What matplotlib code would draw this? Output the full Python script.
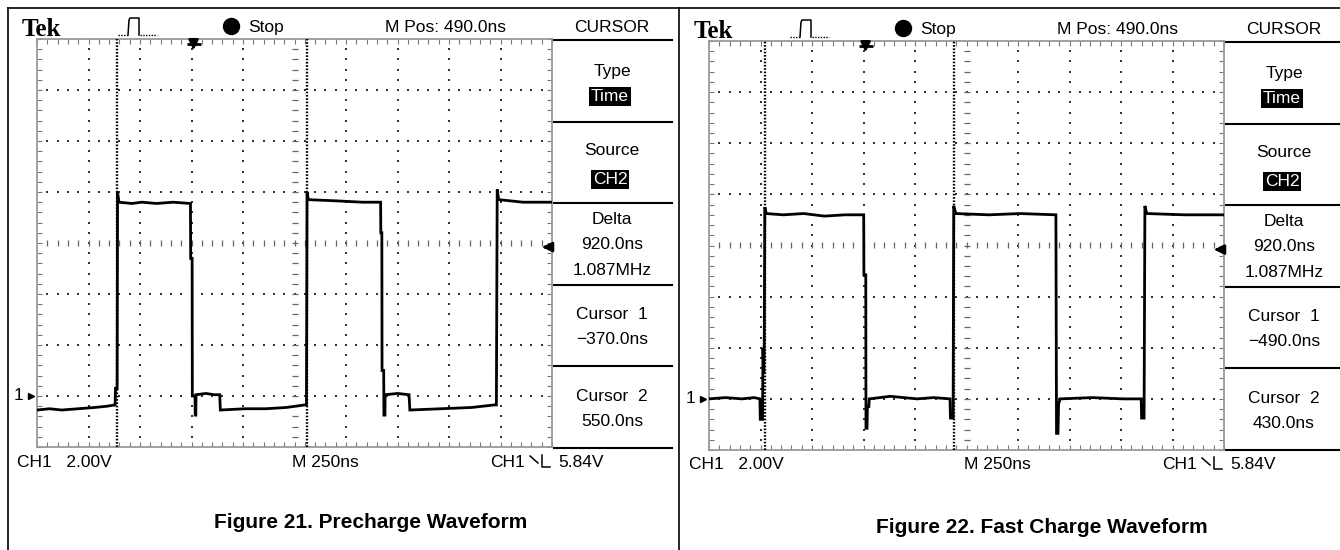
import numpy as np
import matplotlib.pyplot as plt

# scope settings (both captures): 250 ns/div, 2 V/div, M Pos 490 ns
t_min, t_max = -760, 1740
v_min, v_max = -2, 14
trig_level = 5.84

# Figure 21 - precharge waveform, CH1 (t in ns, v in V)
pre_t = [-760, -700, -640, -560, -480, -420, -381, -379, -371, -369, -362, -300,
         -250, -180, -100, -15, -14, -7, -6, 7, 8, 11, 12, 60, 100, 127, 130, 250,
         350, 450, 540, 548, 551, 557, 700, 820, 908, 909, 914, 915, 923, 924, 929,
         930, 990, 1046, 1050, 1200, 1350, 1460, 1470, 1474, 1481, 1600, 1740]
pre_v = [-0.55, -0.5, -0.55, -0.5, -0.45, -0.4, -0.35, 0.3, 0.3, 8.0, 7.6, 7.55,
         7.6, 7.55, 7.6, 7.55, 5.4, 5.4, 0.0, 0.0, -0.75, -0.75, 0.05, 0.1, 0.05, 0.05, -0.55, -0.5,
         -0.5, -0.45, -0.35, -0.35, 8.0, 7.7, 7.65, 7.6, 7.6, 6.4, 6.4, 1.0, 1.0, -0.75, -0.75,
         0.05, 0.1, 0.05, -0.55, -0.5, -0.45, -0.35, -0.35, 8.1, 7.7, 7.6, 7.6]
pre_cursors = [-370, 550]

# Figure 22 - fast charge waveform, CH1
fast_t = [-760, -680, -600, -540, -513, -511, -500, -498, -494, -492, -489, -482,
          -400, -300, -200, -100, -9, -8, 1, 2, 7, 9, 16, 18, 120, 250, 330, 410,
          412, 425, 428, 438, 600, 750, 924, 927, 934, 937, 945, 1100, 1250, 1338,
          1340, 1352, 1356, 1365, 1550, 1740]
fast_v = [0.0, 0.05, 0.0, 0.05, 0.0, -0.8, -0.8, 2.0, 1.0, 2.0, 7.5, 7.25,
          7.2, 7.25, 7.15, 7.2, 7.2, 4.85, 4.85, -1.15, -1.15, -0.3, -0.3, 0.0, 0.1, 0.0, 0.05, 0.0,
          -0.75, -0.75, 7.55, 7.25, 7.2, 7.25, 7.2, -1.35, -1.35, -0.2, 0.0, 0.05, 0.0, 0.0,
          -0.75, -0.75, 7.55, 7.25, 7.2, 7.2]
fast_cursors = [-490, 430]

# menu / readout texts
menu_pre = ['Type', 'Time', 'Source', 'CH2', 'Delta', '920.0ns', '1.087MHz',
            'Cursor  1', '\u2212370.0ns', 'Cursor  2', '550.0ns']
menu_fast = ['Type', 'Time', 'Source', 'CH2', 'Delta', '920.0ns', '1.087MHz',
             'Cursor  1', '\u2212490.0ns', 'Cursor  2', '430.0ns']
captions = ['Figure 21. Precharge Waveform', 'Figure 22. Fast Charge Waveform']

W, H = 1340, 550
fig = plt.figure(figsize=(13.4, 5.5), dpi=100)
ov = fig.add_axes([0, 0, 1, 1])
ov.set_xlim(0, W)
ov.set_ylim(H, 0)
ov.axis('off')

sfont = dict(family=['Liberation Sans', 'DejaVu Sans'], fontsize=12.5)

# outer frame
ov.plot([8, W], [8, 8], color='black', lw=1.2)
ov.plot([8, 8], [8, H], color='black', lw=1.2)
ov.plot([679, 679], [8, H], color='black', lw=1.2)


def screen(ax, t, v, cursors):
    ax.set_xlim(t_min, t_max)
    ax.set_ylim(v_min, v_max)
    ax.set_facecolor('none')
    major_x = np.arange(t_min, t_max + 1, 250)
    major_y = np.arange(v_min, v_max + 0.01, 2)
    minor_x = np.arange(t_min, t_max + 1, 50)
    minor_y = np.arange(v_min, v_max + 0.01, 0.4)
    ax.set_xticks(minor_x)
    ax.set_yticks(minor_y)
    ax.tick_params(direction='in', length=3.5, width=0.8, color='#777',
                   top=True, right=True, labelbottom=False, labelleft=False)
    for s in ax.spines.values():
        s.set_color('#999')
        s.set_linewidth(1.3)
    cx = (t_min + t_max) / 2
    cy = (v_min + v_max) / 2
    # dotted graticule
    vx = [x for x in major_x[1:-1] if x != cx]
    hy = [y for y in major_y[1:-1] if y != cy]
    gx, gy = np.meshgrid(vx, minor_y[1:-1])
    ax.scatter(gx.ravel(), gy.ravel(), s=1.2, marker='s', color='#333', lw=0)
    gx, gy = np.meshgrid(minor_x[1:-1], hy)
    ax.scatter(gx.ravel(), gy.ravel(), s=1.2, marker='s', color='#333', lw=0)
    # centre cross
    ax.plot(np.full(len(minor_y) - 2, cx), minor_y[1:-1], ls='none', marker='_',
            ms=4.5, mew=0.9, color='#666')
    ax.plot(minor_x[1:-1], np.full(len(minor_x) - 2, cy), ls='none', marker='|',
            ms=4.5, mew=0.9, color='#666')
    # cursors
    for c in cursors:
        ax.axvline(c, color='black', lw=1.7, ls=(0, (0.7, 0.7)), zorder=4)
    # waveform
    ax.plot(t, v, color='black', lw=2.0, zorder=5, solid_joinstyle='miter')
    # trigger position / level markers, ground marker
    ax.annotate('', xy=(0, v_max - 0.55), xytext=(0, v_max - 0.02),
                arrowprops=dict(arrowstyle='-|>', color='black', lw=2.0, mutation_scale=14))
    ax.plot([0], [v_max - 0.2], marker='_', ms=10, mew=2.0, color='black')
    ax.annotate('', xy=(t_max - 62, trig_level), xytext=(t_max - 10, trig_level),
                arrowprops=dict(arrowstyle='-|>', color='black', lw=2.0, mutation_scale=14))
    ax.plot([t_min - 30], [0], marker='>', ms=4.5, color='black', clip_on=False)
    ax.annotate('1', xy=(0, 0), xycoords=('axes fraction', 'data'), xytext=(-10, 0),
                textcoords='offset points', ha='right', va='center', **sfont)


def chrome(dx, dy, menu, caption, cap_x, cap_y):
    # header
    ov.text(22 + dx, 36 + dy, 'Tek', family=['Liberation Serif', 'DejaVu Serif'],
            fontweight='bold', fontsize=18, va='baseline', ha='left')
    ov.plot([118 + dx, 128 + dx], [35 + dy, 35 + dy], color='black', lw=1, ls=(0, (1, 1)))
    ov.plot([128 + dx, 129 + dx, 130 + dx, 139 + dx, 139 + dx],
            [35 + dy, 20 + dy, 18 + dy, 18 + dy, 35 + dy], color='black', lw=1.1)
    ov.plot([140 + dx, 157 + dx], [35 + dy, 35 + dy], color='black', lw=1, ls=(0, (1, 1)))
    ov.plot([231 + dx], [26 + dy], marker='o', ms=11.5, color='black')
    ov.text(248 + dx, 32 + dy, 'Stop', ha='left', va='baseline', **sfont)
    ov.text(385 + dx, 32 + dy, 'M Pos: 490.0ns', ha='left', va='baseline', **sfont)
    ov.text(612 + dx, 32 + dy, 'CURSOR', ha='center', va='baseline', **sfont)
    # menu separators
    x1 = min(672 + dx, W)
    for yl in [40, 122, 203, 285, 366, 448]:
        ov.plot([554 + dx, x1], [yl + dy, yl + dy], color='black', lw=1.5)
    mx = 612 + dx
    ys = [76, 101, 155, 184, 224, 249, 275, 319, 344, 401, 426]
    for i, (lab, yb) in enumerate(zip(menu, ys)):
        if i in (1, 3):
            ov.text(mx - 2, yb + dy, lab, ha='center', va='baseline', color='white',
                    bbox=dict(boxstyle='square,pad=0.12', fc='black', ec='none'), **sfont)
        else:
            ov.text(mx, yb + dy, lab, ha='center', va='baseline', **sfont)
    # bottom readouts
    ov.text(17 + dx, 467 + dy, 'CH1   2.00V', ha='left', va='baseline', **sfont)
    ov.text(292 + dx, 467 + dy, 'M 250ns', ha='left', va='baseline', **sfont)
    ov.text(490 + dx, 467 + dy, 'CH1', ha='left', va='baseline', **sfont)
    ov.plot([530 + dx, 538 + dx], [456 + dy, 463 + dy], color='black', lw=1.1)
    ov.plot([542 + dx, 542 + dx, 550 + dx], [455 + dy, 467 + dy, 467 + dy], color='black', lw=1.1)
    ov.text(558 + dx, 467 + dy, '5.84V', ha='left', va='baseline', **sfont)
    ov.text(cap_x, cap_y, caption, ha='center', va='baseline', fontweight='bold',
            family=['Liberation Sans', 'DejaVu Sans'], fontsize=15)


ax1 = fig.add_axes([37 / W, (H - 447) / H, 515 / W, 408 / H])
screen(ax1, pre_t, pre_v, pre_cursors)
chrome(0, 0, menu_pre, captions[0], 371, 528)

ax2 = fig.add_axes([709 / W, (H - 450) / H, 515 / W, 409 / H])
screen(ax2, fast_t, fast_v, fast_cursors)
chrome(672, 2, menu_fast, captions[1], 1042, 533)

fig.savefig('out.png', dpi=100)
